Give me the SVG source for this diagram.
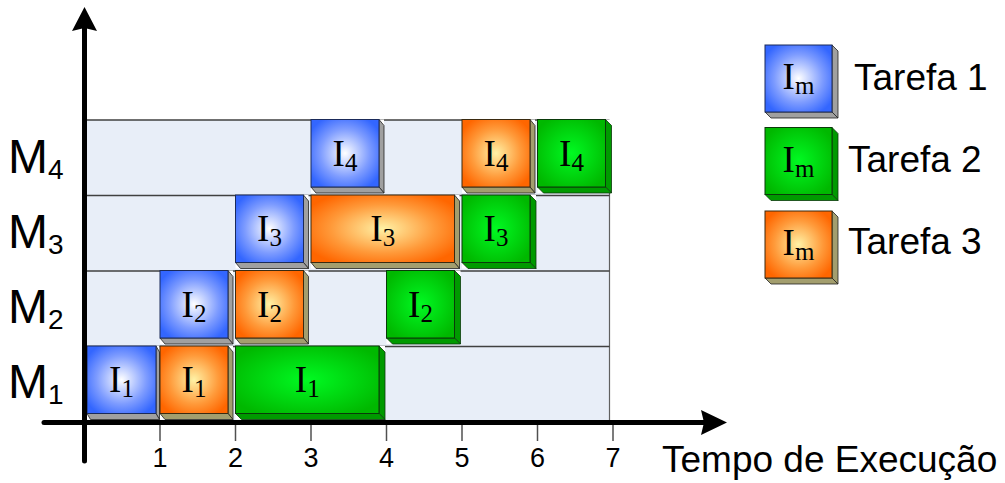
<svg xmlns="http://www.w3.org/2000/svg" width="1005" height="483" viewBox="0 0 1005 483">
<defs>
<radialGradient id="gBlue" cx="0.5" cy="0.5" r="0.6">
<stop offset="0" stop-color="#FFFFFF"/>
<stop offset="0.6" stop-color="#7E9CFF"/>
<stop offset="1" stop-color="#3366FF"/>
</radialGradient>
<radialGradient id="gOrange" cx="0.5" cy="0.5" r="0.6">
<stop offset="0" stop-color="#FFF2A6"/>
<stop offset="0.6" stop-color="#FF9A3A"/>
<stop offset="1" stop-color="#FF6600"/>
</radialGradient>
<radialGradient id="gGreen" cx="0.5" cy="0.5" r="0.6">
<stop offset="0" stop-color="#00FA22"/>
<stop offset="1" stop-color="#00B800"/>
</radialGradient>
</defs>
<style>
.bg{fill:#E8EEF8;stroke:none}
.row{stroke:#404040;stroke-width:1.5}
.edge{stroke:#606060;stroke-width:1.2}
.tick{stroke:#505050;stroke-width:1.5}
.axis{stroke:#000;stroke-width:5;stroke-linecap:round}
.wh{fill:#FFFFFF}
.fb{fill:url(#gBlue);stroke:#1A2A5A;stroke-width:1}
.fo{fill:url(#gOrange);stroke:#3A2A10;stroke-width:1}
.fg{fill:url(#gGreen);stroke:#0A3A0A;stroke-width:1}
.sb{fill:#A0A0A0;stroke:#222;stroke-width:0.8}
.so{fill:#A39E6E;stroke:#222;stroke-width:0.8}
.sg{fill:#009A00;stroke:#0A3A0A;stroke-width:0.8}
.lbl{font-family:"Liberation Serif","Times New Roman",serif;font-size:37px;fill:#000;text-anchor:middle}
.sub{font-size:25px}
.ml{font-family:"Liberation Sans",Arial,sans-serif;font-size:48px;fill:#000}
.msub{font-size:28px}
.tk{font-family:"Liberation Sans",Arial,sans-serif;font-size:27px;fill:#000;text-anchor:middle}
.leg{font-family:"Liberation Sans",Arial,sans-serif;font-size:37px;fill:#000}
</style>

<g id="background">
<rect class="bg" x="87" y="120" width="522.5" height="302"/>
<line class="edge" x1="609.5" y1="120" x2="609.5" y2="422"/>
<line class="row" x1="87" y1="120" x2="609.5" y2="120"/>
<line class="row" x1="87" y1="195.5" x2="609.5" y2="195.5"/>
<line class="row" x1="87" y1="271" x2="609.5" y2="271"/>
<line class="row" x1="87" y1="346.5" x2="609.5" y2="346.5"/>
</g>

<!-- Row M4 -->
<g id="m4-t1">
<rect class="wh" x="311" y="119.5" width="73" height="73.5"/>
<polygon class="sb" points="379,119.5 384,125.5 384,193 379,187"/>
<polygon class="sb" points="311,187 379,187 384,193 316,193"/>
<rect class="fb" x="311" y="119.5" width="68" height="67.5"/>
<text class="lbl" x="345" y="165.5">I<tspan class="sub" dy="5">4</tspan></text>
</g>
<g id="m4-t3">
<rect class="wh" x="462" y="119.5" width="73" height="73.5"/>
<polygon class="so" points="530,119.5 535,125.5 535,193 530,187"/>
<polygon class="so" points="462,187 530,187 535,193 467,193"/>
<rect class="fo" x="462" y="119.5" width="68" height="67.5"/>
<text class="lbl" x="496" y="165.5">I<tspan class="sub" dy="5">4</tspan></text>
</g>
<g id="m4-t2">
<rect class="wh" x="537.5" y="119.5" width="74" height="73.5"/>
<polygon class="sg" points="605.5,119.5 611.5,125.5 611.5,193 605.5,187"/>
<polygon class="sg" points="537.5,187 605.5,187 611.5,193 543.5,193"/>
<rect class="fg" x="537.5" y="119.5" width="68" height="67.5"/>
<text class="lbl" x="571.5" y="165.5">I<tspan class="sub" dy="5">4</tspan></text>
</g>

<!-- Row M3 -->
<g id="m3-t1">
<rect class="wh" x="235.5" y="195" width="73" height="73.5"/>
<polygon class="sb" points="303.5,195 308.5,201 308.5,268.5 303.5,262.5"/>
<polygon class="sb" points="235.5,262.5 303.5,262.5 308.5,268.5 240.5,268.5"/>
<rect class="fb" x="235.5" y="195" width="68" height="67.5"/>
<text class="lbl" x="269.5" y="241">I<tspan class="sub" dy="5">3</tspan></text>
</g>
<g id="m3-t3">
<rect class="wh" x="311" y="195" width="148.5" height="73.5"/>
<polygon class="so" points="454.5,195 459.5,201 459.5,268.5 454.5,262.5"/>
<polygon class="so" points="311,262.5 454.5,262.5 459.5,268.5 316,268.5"/>
<rect class="fo" x="311" y="195" width="143.5" height="67.5"/>
<text class="lbl" x="382.75" y="241">I<tspan class="sub" dy="5">3</tspan></text>
</g>
<g id="m3-t2">
<rect class="wh" x="462" y="195" width="74" height="73.5"/>
<polygon class="sg" points="530,195 536,201 536,268.5 530,262.5"/>
<polygon class="sg" points="462,262.5 530,262.5 536,268.5 468,268.5"/>
<rect class="fg" x="462" y="195" width="68" height="67.5"/>
<text class="lbl" x="496" y="241">I<tspan class="sub" dy="5">3</tspan></text>
</g>

<!-- Row M2 -->
<g id="m2-t1">
<rect class="wh" x="160" y="270.5" width="73" height="73.5"/>
<polygon class="sb" points="228,270.5 233,276.5 233,344 228,338"/>
<polygon class="sb" points="160,338 228,338 233,344 165,344"/>
<rect class="fb" x="160" y="270.5" width="68" height="67.5"/>
<text class="lbl" x="194" y="316.5">I<tspan class="sub" dy="5">2</tspan></text>
</g>
<g id="m2-t3">
<rect class="wh" x="235.5" y="270.5" width="73" height="73.5"/>
<polygon class="so" points="303.5,270.5 308.5,276.5 308.5,344 303.5,338"/>
<polygon class="so" points="235.5,338 303.5,338 308.5,344 240.5,344"/>
<rect class="fo" x="235.5" y="270.5" width="68" height="67.5"/>
<text class="lbl" x="269.5" y="316.5">I<tspan class="sub" dy="5">2</tspan></text>
</g>
<g id="m2-t2">
<rect class="wh" x="386.5" y="270.5" width="74" height="73.5"/>
<polygon class="sg" points="454.5,270.5 460.5,276.5 460.5,344 454.5,338"/>
<polygon class="sg" points="386.5,338 454.5,338 460.5,344 392.5,344"/>
<rect class="fg" x="386.5" y="270.5" width="68" height="67.5"/>
<text class="lbl" x="420.5" y="316.5">I<tspan class="sub" dy="5">2</tspan></text>
</g>

<!-- Row M1 -->
<g id="m1-t1">
<rect class="wh" x="87" y="346" width="72.5" height="73.5"/>
<polygon class="sb" points="156,346 159.5,352 159.5,419.5 156,413.5"/>
<polygon class="sb" points="87,413.5 156,413.5 159.5,419.5 90.5,419.5"/>
<rect class="fb" x="87" y="346" width="69" height="67.5"/>
<text class="lbl" x="121.5" y="392">I<tspan class="sub" dy="5">1</tspan></text>
</g>
<g id="m1-t3">
<rect class="wh" x="160" y="346" width="73" height="73.5"/>
<polygon class="so" points="228,346 233,352 233,419.5 228,413.5"/>
<polygon class="so" points="160,413.5 228,413.5 233,419.5 165,419.5"/>
<rect class="fo" x="160" y="346" width="68" height="67.5"/>
<text class="lbl" x="194" y="392">I<tspan class="sub" dy="5">1</tspan></text>
</g>
<g id="m1-t2">
<rect class="wh" x="235.5" y="346" width="149.5" height="73.5"/>
<polygon class="sg" points="379,346 385,352 385,419.5 379,413.5"/>
<polygon class="sg" points="235.5,413.5 379,413.5 385,419.5 241.5,419.5"/>
<rect class="fg" x="235.5" y="346" width="143.5" height="67.5"/>
<text class="lbl" x="307.25" y="392">I<tspan class="sub" dy="5">1</tspan></text>
</g>

<g id="axes">
<line class="tick" x1="160" y1="425" x2="160" y2="441"/>
<line class="tick" x1="235.5" y1="425" x2="235.5" y2="441"/>
<line class="tick" x1="311" y1="425" x2="311" y2="441"/>
<line class="tick" x1="386.5" y1="425" x2="386.5" y2="441"/>
<line class="tick" x1="462" y1="425" x2="462" y2="441"/>
<line class="tick" x1="537.5" y1="425" x2="537.5" y2="441"/>
<line class="tick" x1="613" y1="425" x2="613" y2="441"/>
<line class="axis" x1="84.5" y1="28" x2="84.5" y2="461"/>
<polygon points="84.5,7 97,31 84.5,28 72,31" fill="#000"/>
<line class="axis" x1="44" y1="422.5" x2="704" y2="422.5"/>
<polygon points="727,422.5 701,435 704,422.5 701,410" fill="#000"/>
</g>

<g id="tick-labels">
<text class="tk" x="160" y="467">1</text>
<text class="tk" x="235.5" y="467">2</text>
<text class="tk" x="311" y="467">3</text>
<text class="tk" x="386.5" y="467">4</text>
<text class="tk" x="462" y="467">5</text>
<text class="tk" x="537.5" y="467">6</text>
<text class="tk" x="613" y="467">7</text>
<text class="leg" x="662" y="472">Tempo de Execução</text>
</g>

<g id="machine-labels">
<text class="ml" x="8" y="173">M<tspan class="msub" dy="6">4</tspan></text>
<text class="ml" x="8" y="248">M<tspan class="msub" dy="6">3</tspan></text>
<text class="ml" x="8" y="323">M<tspan class="msub" dy="6">2</tspan></text>
<text class="ml" x="8" y="398">M<tspan class="msub" dy="6">1</tspan></text>
</g>

<g id="legend-1">
<rect class="wh" x="765" y="45" width="73" height="73"/>
<polygon class="sb" points="832,45 838,51 838,118 832,112"/>
<polygon class="sb" points="765,112 832,112 838,118 771,118"/>
<rect class="fb" x="765" y="45" width="67" height="67"/>
<text class="lbl" x="798.5" y="89">I<tspan class="sub" dy="5">m</tspan></text>
<text class="leg" x="854" y="90">Tarefa 1</text>
</g>
<g id="legend-2">
<rect class="wh" x="765" y="127.5" width="73" height="73"/>
<polygon class="sg" points="832,127.5 838,133.5 838,200.5 832,194.5"/>
<polygon class="sg" points="765,194.5 832,194.5 838,200.5 771,200.5"/>
<rect class="fg" x="765" y="127.5" width="67" height="67"/>
<text class="lbl" x="798.5" y="171.5">I<tspan class="sub" dy="5">m</tspan></text>
<text class="leg" x="848" y="172">Tarefa 2</text>
</g>
<g id="legend-3">
<rect class="wh" x="765" y="211" width="73" height="73"/>
<polygon class="so" points="832,211 838,217 838,284 832,278"/>
<polygon class="so" points="765,278 832,278 838,284 771,284"/>
<rect class="fo" x="765" y="211" width="67" height="67"/>
<text class="lbl" x="798.5" y="255">I<tspan class="sub" dy="5">m</tspan></text>
<text class="leg" x="848" y="254">Tarefa 3</text>
</g>
</svg>
